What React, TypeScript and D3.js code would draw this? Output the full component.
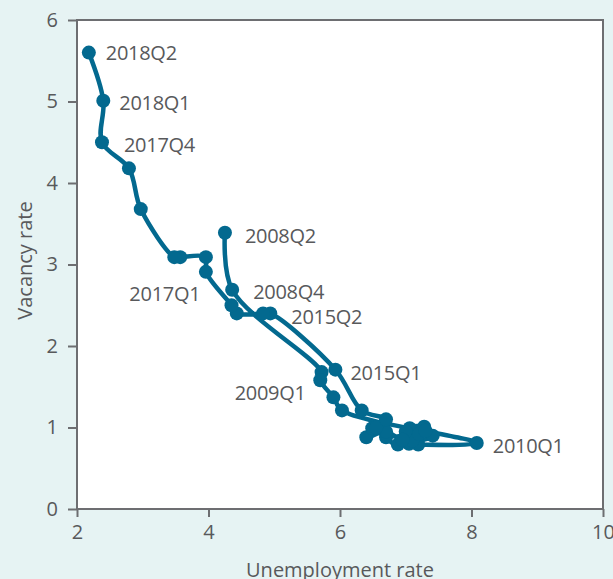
import React, { useEffect, useRef } from "react";
import * as d3 from "d3";

// Beveridge curve: quarters, unemployment rate (x) and vacancy rate (y)
const quarters: string[] = [
  "2008Q2", "2008Q4",
  "2009Q1", "2009Q2", "2009Q3", "2009Q4",
  "2010Q1", "2010Q2", "2010Q3", "2010Q4",
  "2011Q1", "2011Q2", "2011Q3", "2011Q4",
  "2012Q1", "2012Q2", "2012Q3", "2012Q4",
  "2013Q1", "2013Q2", "2013Q3", "2013Q4",
  "2014Q1", "2014Q2", "2014Q3", "2014Q4",
  "2015Q1", "2015Q2", "2015Q3", "2015Q4",
  "2016Q1", "2016Q2", "2016Q3", "2016Q4",
  "2017Q1", "2017Q2", "2017Q3", "2017Q4",
  "2018Q1", "2018Q2",
];
const unemployment: number[] = [
  4.25, 4.36,
  5.72, 5.7, 5.9, 6.03,
  8.08, 7.19, 7.05, 7.41,
  7.28, 7.06, 6.88, 6.7,
  7.0, 7.1, 7.0, 7.2,
  7.3, 6.95, 6.7, 6.4,
  6.49, 6.55, 6.7, 6.33,
  5.93, 4.94, 4.83, 4.43,
  4.35, 3.96, 3.96, 3.57,
  3.48, 2.97, 2.79, 2.38,
  2.4, 2.18,
];
const vacancy: number[] = [
  3.39, 2.69,
  1.68, 1.58, 1.37, 1.21,
  0.81, 0.79, 0.8, 0.9,
  1.01, 0.99, 0.79, 0.88,
  0.88, 0.84, 0.95, 0.92,
  0.96, 0.85, 0.95, 0.88,
  0.99, 1.0, 1.1, 1.21,
  1.71, 2.4, 2.4, 2.4,
  2.5, 2.91, 3.09, 3.09,
  3.09, 3.68, 4.18, 4.5,
  5.01, 5.6,
];
const labelled: string[] = [
  "2018Q2", "2018Q1", "2017Q4", "2017Q1", "2008Q2",
  "2008Q4", "2015Q2", "2015Q1", "2009Q1", "2010Q1",
];
const xTicks: number[] = [2, 4, 6, 8, 10];
const yTicks: number[] = [0, 1, 2, 3, 4, 5, 6];

const width = 613;
const height = 579;
const marginTop = 20;
const marginRight = 10;
const marginBottom = 70;
const marginLeft = 77;

const lineColor = "#03698f";
const axisColor = "#6d6e71";
const textColor = "#58595b";
const font = "'Open Sans', sans-serif";

// label placement relative to its point: [dx, dy, anchor]
const labelOffsets: Record<string, [number, number, string]> = {
  "2018Q2": [17, 0, "start"],
  "2018Q1": [16, 2, "start"],
  "2017Q4": [22, 3, "start"],
  "2017Q1": [26, 37, "end"],
  "2008Q2": [20, 3, "start"],
  "2008Q4": [21, 2, "start"],
  "2015Q2": [21, 4, "start"],
  "2015Q1": [15, 3, "start"],
  "2009Q1": [-16, 21, "end"],
  "2010Q1": [16, 3, "start"],
};

const App = () => {
  const axisBottomEl = useRef<SVGGElement>(null);
  const axisLeftEl = useRef<SVGGElement>(null);

  const x = d3.scaleLinear().domain([2, 10]).range([marginLeft, width - marginRight]);
  const y = d3.scaleLinear().domain([0, 6]).range([height - marginBottom, marginTop]);

  const points = quarters.map((q, i) => ({ q, u: unemployment[i], v: vacancy[i] }));

  const line = d3
    .line<{ q: string; u: number; v: number }>()
    .x((d) => x(d.u))
    .y((d) => y(d.v))
    .curve(d3.curveCatmullRom.alpha(0.5));

  useEffect(() => {
    const styleAxis = (g: any) => {
      g.select(".domain").remove();
      g.selectAll(".tick line").attr("stroke", axisColor).attr("stroke-width", 2);
      g.selectAll(".tick text")
        .attr("fill", textColor)
        .style("font-family", font)
        .style("font-size", "20px");
    };
    d3.select(axisBottomEl.current)
      .call(d3.axisBottom(x).tickValues(xTicks).tickSize(8).tickPadding(8).tickFormat(d3.format("d")) as any)
      .call(styleAxis);
    d3.select(axisLeftEl.current)
      .call(d3.axisLeft(y).tickValues(yTicks).tickSize(9).tickPadding(10).tickFormat(d3.format("d")) as any)
      .call(styleAxis);
  }, [x, y]);

  const plotW = width - marginLeft - marginRight;
  const plotH = height - marginTop - marginBottom;

  return (
    <svg
      width={width}
      height={height}
      style={{ position: "absolute", left: 0, top: 0, display: "block" }}
    >
      <rect x={0} y={0} width={width} height={height} fill="#e6f3f3" />
      <rect x={marginLeft} y={marginTop} width={plotW} height={plotH} fill="#ffffff" />

      <path
        d={line(points) as string}
        fill="none"
        stroke={lineColor}
        strokeWidth={4.5}
        strokeLinejoin="round"
      />
      <g fill={lineColor}>
        {points.map((d, i) => (
          <circle key={i} cx={x(d.u)} cy={y(d.v)} r={7} />
        ))}
      </g>

      <g fill={textColor} style={{ fontFamily: font, fontSize: 20 }}>
        {points
          .filter((d) => labelled.includes(d.q))
          .map((d) => {
            const [dx, dy, anchor] = labelOffsets[d.q];
            return (
              <text
                key={d.q}
                x={x(d.u) + dx}
                y={y(d.v) + dy}
                dy="0.35em"
                textAnchor={anchor as any}
                letterSpacing={-0.3}
              >
                {d.q}
              </text>
            );
          })}
      </g>

      <rect
        x={marginLeft}
        y={marginTop}
        width={plotW}
        height={plotH}
        fill="none"
        stroke={axisColor}
        strokeWidth={2}
      />

      <g ref={axisLeftEl} transform={`translate(${marginLeft},0)`} />
      <g ref={axisBottomEl} transform={`translate(0,${height - marginBottom})`} />

      <text
        x={(marginLeft + width - marginRight) / 2}
        y={577}
        textAnchor="middle"
        fill={textColor}
        style={{ fontFamily: font, fontSize: 20 }}
      >
        Unemployment rate
      </text>
      <text
        transform={`translate(32,${(marginTop + height - marginBottom) / 2 - 4}) rotate(-90)`}
        textAnchor="middle"
        fill={textColor}
        style={{ fontFamily: font, fontSize: 20 }}
      >
        Vacancy rate
      </text>
    </svg>
  );
};

export default App;
